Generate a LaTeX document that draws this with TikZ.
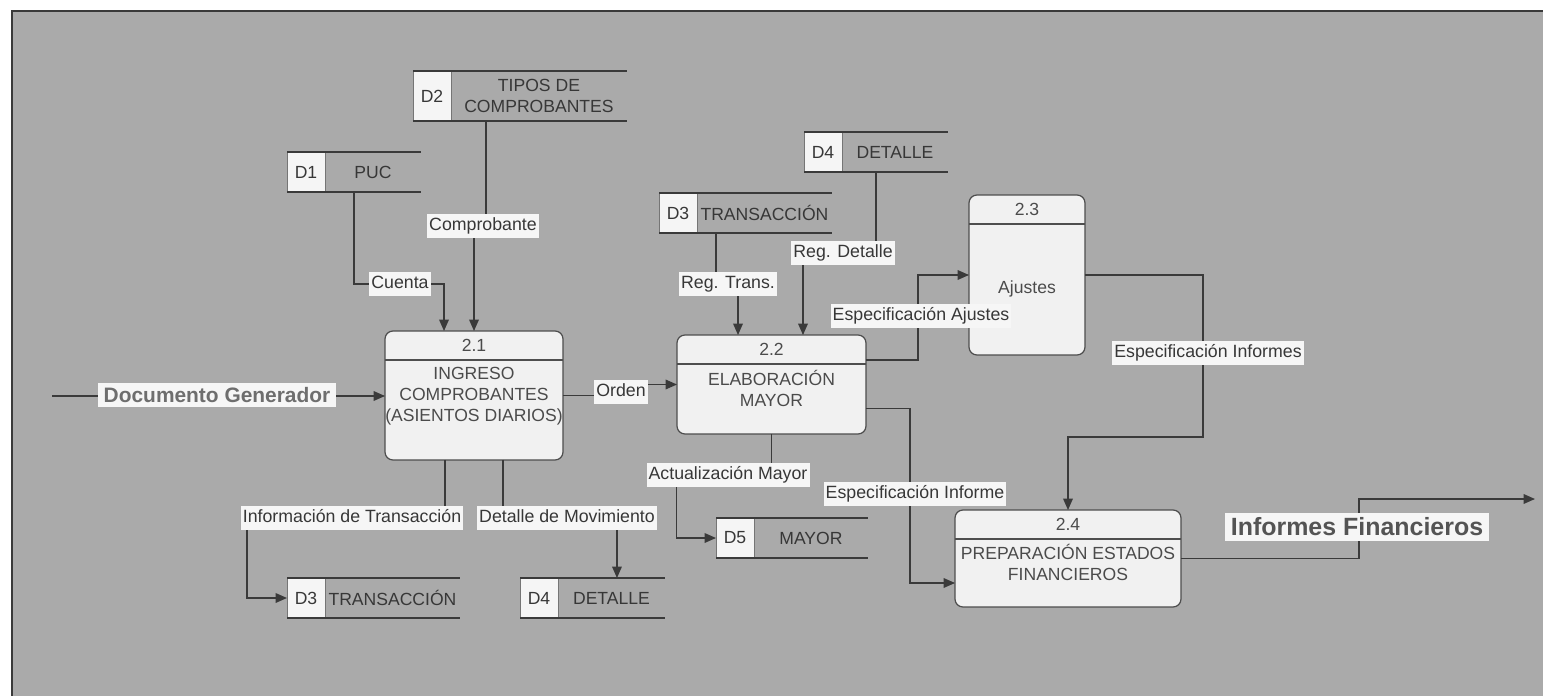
\documentclass[tikz,border=0pt]{standalone}
\usepackage{fontspec}
\setmainfont{Liberation Sans}
\usetikzlibrary{arrows.meta,calc}

\definecolor{panelgray}{RGB}{170,170,170}
\definecolor{linegray}{RGB}{58,58,58}
\definecolor{boxfill}{RGB}{241,241,241}
\definecolor{lblfill}{RGB}{246,246,246}
\definecolor{txtgray}{RGB}{55,55,55}

\tikzset{
  panelframe/.style={draw=linegray, line width=1.2pt},
  flow/.style={draw=linegray, line width=0.75pt, -{Triangle[length=6.5pt,width=5.5pt]}},
  store/.style={inner sep=0pt, outer sep=0pt},
  storeline/.style={draw=linegray, line width=1pt},
  storeid/.style={draw=linegray!70, line width=0.4pt, fill=white!96!black, inner sep=0pt, outer sep=0pt,
    minimum width=0.76cm, text=txtgray, font=\fontsize{10}{12}\selectfont},
  storetext/.style={inner sep=0pt, align=center, text=txtgray, font=\fontsize{10}{12}\selectfont},
  proc/.style={draw=linegray!90, line width=0.7pt, fill=boxfill, rounded corners=4.5pt, inner sep=0pt, outer sep=0pt},
  procline/.style={draw=linegray!90, line width=0.7pt},
  proctext/.style={inner sep=0pt, align=center, text=txtgray!90, font=\fontsize{10}{12}\selectfont},
  lbl/.style={fill=lblfill, text=txtgray, inner xsep=1.2pt, inner ysep=2pt, text height=7.2pt, text depth=2pt,
    font=\fontsize{10.1}{12}\selectfont},
  biglbl/.style={fill=lblfill, inner xsep=3.4pt, inner ysep=2.6pt, font=\bfseries}
}

\newcommand{\Store}[6]{%
  \node[store, minimum width=#4, minimum height=#5, anchor=west] (#1) at (#3) {};
  \node[storeid, minimum height=#5, anchor=west] (#1id) at (#1.west) {#2};
  \node[storetext] (#1txt) at ($(#1id.east)!0.5!(#1.east)$) {#6};
  \draw[storeline] (#1.north west) -- (#1.north east) (#1.south west) -- (#1.south east);
}

\newcommand{\Process}[7]{%
  \node[proc, minimum width=#3, minimum height=#4] (#1) at (#2) {};
  \draw[procline] ([yshift=-0.58cm]#1.north west) -- ([yshift=-0.58cm]#1.north east);
  \node[proctext] (#1num) at ([yshift=-0.29cm]#1.north) {#5};
  \node[proctext] (#1txt) at ([yshift=-#7]#1.center) {#6};
}

\begin{document}
\begin{tikzpicture}[x=0.02cm, y=-0.02cm]
\useasboundingbox (0,0) rectangle (1543,696);
\fill[white] (0,0) rectangle (1543,696);
\fill[panelgray] (12,11) rectangle (1543,696);
\draw[panelframe] (12,696) -- (12,11) -- (1543,11);

\Store{d2}{D2}{413,96}{4.28cm}{1.0cm}{TIPOS DE\\COMPROBANTES}
\Store{d1}{D1}{287,172}{2.68cm}{0.8cm}{PUC}
\Store{d4a}{D4}{804,152}{2.88cm}{0.8cm}{DETALLE}
\Store{d3a}{D3}{659,213}{3.46cm}{0.8cm}{TRANSACCIÓN}
\Store{d5}{D5}{716,538}{3.04cm}{0.8cm}{MAYOR}
\Store{d3b}{D3}{287,598}{3.46cm}{0.8cm}{TRANSACCIÓN}
\Store{d4b}{D4}{520,598}{2.9cm}{0.8cm}{DETALLE}

\Process{p21}{474,395.5}{3.56cm}{2.58cm}{2.1}{INGRESO\\COMPROBANTES\\(ASIENTOS DIARIOS)}{0.02cm}
\Process{p22}{771.5,384.5}{3.78cm}{1.98cm}{2.2}{ELABORACIÓN\\MAYOR}{0.08cm}
\Process{p23}{1027,275}{2.32cm}{3.2cm}{2.3}{Ajustes}{0.28cm}
\Process{p24}{1068,558.5}{4.52cm}{1.94cm}{2.4}{PREPARACIÓN ESTADOS\\FINANCIEROS}{0.08cm}

\coordinate (src) at (52,396);
\coordinate (sink) at (1535,499);

\draw[flow] (src) -- (src -| p21.west);
\draw[flow] ([xshift=-0.68cm]d2.south) -- ++(0,105) -| (p21.north);
\draw[flow] (d1.south) -- ++(0,92) -| ([xshift=-0.6cm]p21.north);
\draw[flow] (p21.east) -- ++(58,0) |- (p22.west);
\draw[flow] ([xshift=-0.59cm]d3a.south) -- ++(0,51) -| ([xshift=-0.67cm]p22.north);
\draw[flow] (d4a.south) -- ++(0,81) -| ([xshift=0.63cm]p22.north);
\draw[flow] ([yshift=0.49cm]p22.east) -- ++(52,0) |- (p23.west);
\draw[flow] (p23.east) -- ++(118,0) -- ++(0,162) -| (p24.north);
\draw[flow] ([yshift=-0.48cm]p22.east) -- ++(44,0) |- ([yshift=-0.49cm]p24.west);
\draw[flow] (p22.south) -- ++(0,41) -- ++(-95,0) |- (d5.west);
\draw[flow] ([xshift=-0.58cm]p21.south) -- ++(0,58) -- ++(-198,0) |- (d3b.west);
\draw[flow] ([xshift=0.58cm]p21.south) -- ++(0,58) -| ([xshift=0.49cm]d4b.north);
\draw[flow] (p24.east) -- ++(178,0) |- (sink);

\node[biglbl, text=black!57, font=\fontsize{11.9}{14}\selectfont\bfseries] (ldoc) at (217,395) {Documento Generador};
\node[lbl] (lcomp) at (483,226) {Comprobante};
\node[lbl] (lcuenta) at (400,284) {Cuenta};
\node[lbl] (lorden) at (621,392) {Orden};
\node[lbl] (lregtr) at (728,284) {Reg. Trans.};
\node[lbl] (lregdet) at (843,253) {Reg. Detalle};
\node[lbl] (lespaj) at (921,316) {Especificación Ajustes};
\node[lbl] (lespinfs) at (1208,353) {Especificación Informes};
\node[lbl] (lespinf) at (915,494) {Especificación Informe};
\node[lbl] (lactmay) at (728,475) {Actualización Mayor};
\node[lbl] (linftr) at (352,518) {Información de Transacción};
\node[lbl] (ldetmov) at (567,518) {Detalle de Movimiento};
\node[biglbl, text=black!67, font=\fontsize{14.2}{17}\selectfont\bfseries] (linffin) at (1357,527) {Informes Financieros};
\end{tikzpicture}
\end{document}
